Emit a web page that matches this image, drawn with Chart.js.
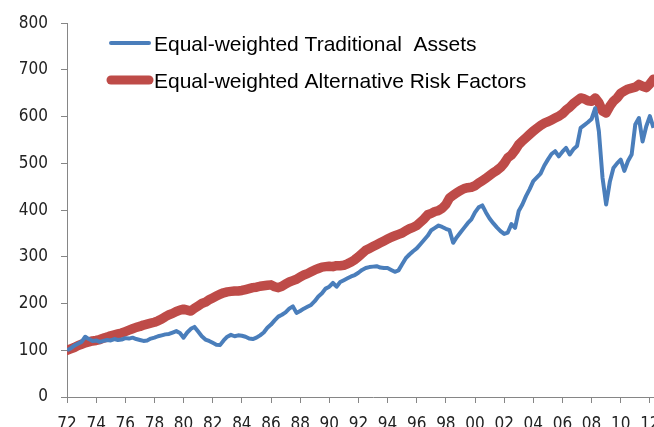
<!DOCTYPE html>
<html>
<head>
<meta charset="utf-8">
<script src="https://cdn.jsdelivr.net/npm/chart.js@4/dist/chart.umd.min.js"></script>
<style>
  html, body { margin: 0; padding: 0; background: #fff; overflow: hidden; }
  #wrap { width: 700px; height: 427px; }
</style>
</head>
<body>
<div id="wrap"><canvas id="chart" width="700" height="427"></canvas></div>
<script>
const startYear = 1972;
const pointsPerYear = 4; // quarterly readings

const seriesNames = [
  "Equal-weighted Traditional  Assets",
  "Equal-weighted Alternative Risk Factors",
];

// Equal-weighted Traditional Assets, quarterly from 1972
const traditional = [
  100, 104, 110, 114, // 72
  118, 129, 124, 120,
  121, 118, 120, 122,
  121, 124, 122, 123,
  126, 125, 127, 124,
  122, 120, 121, 125,
  127, 130, 132, 134,
  135, 138, 141, 137,
  127, 138, 146, 150, // 80
  140, 130, 123, 120,
  116, 112, 111, 121,
  129, 133, 130, 132,
  131, 129, 125, 124,
  127, 132, 138, 148,
  155, 164, 172, 176,
  181, 189, 194, 180,
  184, 189, 193, 197,
  205, 215, 222, 232,
  236, 244, 236, 246, // 90
  250, 254, 258, 261,
  266, 272, 276, 278,
  279, 280, 277, 276,
  276, 272, 268, 271,
  284, 297, 305, 312,
  318, 327, 336, 345,
  357, 362, 367, 364,
  360, 357, 330, 342,
  352, 362, 372, 380,
  395, 406, 410, 395, // 00
  382, 372, 363, 355,
  349, 352, 370, 362,
  398, 412, 430, 445,
  462, 470, 478, 495,
  508, 520, 526, 515,
  525, 533, 519, 530,
  537, 576, 582, 588,
  595, 618, 569, 470,
  412, 460, 490, 500,
  508, 484, 505, 519, // 10
  583, 597, 547, 579,
  601, 576,
];

// Equal-weighted Alternative Risk Factors, quarterly from 1972
const alternative = [
  100, 103, 106, 110, // 72
  113, 116, 118, 120,
  121, 123, 126, 128,
  131, 133, 135, 137,
  140, 143, 146, 149,
  151, 154, 156, 158,
  160, 163, 167, 172,
  176, 179, 183, 186,
  188, 186, 184, 190, // 80
  195, 200, 203, 208,
  212, 216, 220, 223,
  225, 226, 227, 227,
  228, 230, 232, 234,
  235, 237, 238, 239,
  240, 236, 234, 237,
  242, 246, 249, 252,
  257, 261, 264, 268,
  272, 275, 278, 279,
  280, 279, 281, 281, // 90
  282, 285, 289, 294,
  300, 307, 314, 318,
  322, 326, 330, 334,
  338, 342, 345, 348,
  351, 356, 360, 363,
  367, 374, 381, 390,
  393, 397, 399, 404,
  412, 426, 432, 437,
  442, 446, 448, 449,
  452, 458, 463, 468, // 00
  474, 480, 485, 491,
  500, 512, 518, 528,
  540, 548, 555, 562,
  569, 575, 581, 586,
  589, 593, 597, 601,
  606, 614, 620, 628,
  634, 640, 638, 634,
  633, 640, 630, 612,
  608, 622, 633, 640,
  650, 655, 659, 661, // 10
  663, 669, 665, 662,
  670, 680,
];

const blue = "#4A7EBB";
const red = "#BE4B48";
const axisGray = "#868686";
const tickFont = { family: "'Liberation Sans Narrow', 'Arial Narrow', 'DejaVu Sans Condensed', sans-serif", size: 17 };

function toPoints(values) {
  return values.map((v, i) => ({ x: startYear + i / pointsPerYear, y: v }));
}

// legend drawn as two stacked rows inside the plot, like the original
const stackedLegend = {
  id: "stackedLegend",
  afterDraw(chart) {
    const { ctx } = chart;
    const rows = [
      { label: seriesNames[0], color: blue, width: 4, y: 43, x0: 111, x1: 149 },
      { label: seriesNames[1], color: red, width: 9, y: 80, x0: 111, x1: 149 },
    ];
    ctx.save();
    ctx.lineCap = "round";
    rows.forEach((r) => {
      ctx.strokeStyle = r.color;
      ctx.lineWidth = r.width;
      ctx.beginPath();
      ctx.moveTo(r.x0, r.y);
      ctx.lineTo(r.x1, r.y);
      ctx.stroke();
      ctx.fillStyle = "#000";
      ctx.font = "21px 'Liberation Sans', Arial, sans-serif";
      ctx.textBaseline = "alphabetic";
      ctx.fillText(r.label, 154, r.y + 7.5);
    });
    ctx.restore();
  },
};

const ctx = document.getElementById("chart").getContext("2d");
new Chart(ctx, {
  type: "line",
  data: {
    datasets: [
      {
        label: seriesNames[0],
        data: toPoints(traditional),
        borderColor: blue,
        borderWidth: 4,
        pointRadius: 0,
        tension: 0,
        borderJoinStyle: "round",
        order: 0,
      },
      {
        label: seriesNames[1],
        data: toPoints(alternative),
        borderColor: red,
        borderWidth: 9.5,
        pointRadius: 0,
        tension: 0,
        borderJoinStyle: "round",
        borderCapStyle: "round",
        order: 1,
      },
    ],
  },
  options: {
    responsive: false,
    animation: false,
    layout: { padding: { top: 22, right: 21, left: 0, bottom: 0 } },
    plugins: {
      legend: { display: false },
      tooltip: { enabled: false },
    },
    scales: {
      x: {
        type: "linear",
        min: 1972,
        max: 2014,
        afterFit: (s) => { s.height = 30; },
        border: { color: axisGray, width: 1 },
        grid: { drawOnChartArea: false, drawTicks: true, tickLength: 6, color: axisGray },
        ticks: {
          stepSize: 2,
          autoSkip: false,
          maxRotation: 0,
          padding: 11,
          color: "#222",
          font: tickFont,
          callback: (v) => String(v % 100).padStart(2, "0"),
        },
      },
      y: {
        min: 0,
        max: 800,
        afterFit: (s) => { s.width = 67; },
        border: { color: axisGray, width: 1 },
        grid: { drawOnChartArea: false, drawTicks: true, tickLength: 6, color: axisGray },
        ticks: {
          stepSize: 100,
          padding: 13,
          color: "#222",
          font: tickFont,
        },
      },
    },
  },
  plugins: [stackedLegend],
});
</script>
</body>
</html>
